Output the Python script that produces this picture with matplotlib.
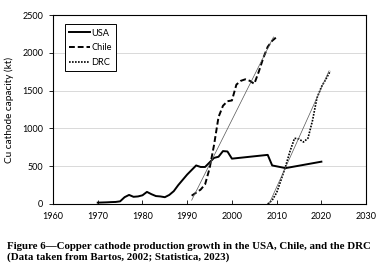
import matplotlib
matplotlib.use("Agg")
import matplotlib.pyplot as plt

# ---- data ----
usa_years = [1970, 1971, 1972, 1973, 1974, 1975, 1976, 1977, 1978, 1979, 1980,
             1981, 1982, 1983, 1984, 1985, 1986, 1987, 1988, 1989, 1990, 1991,
             1992, 1993, 1994, 1995, 1996, 1997, 1998, 1999, 2000, 2008, 2009,
             2012, 2020]
usa_vals = [18, 20, 22, 25, 27, 35, 90, 120, 95, 100, 115,
            160, 130, 105, 100, 90, 120, 170, 250, 320, 390, 450,
            510, 490, 490, 550, 610, 625, 700, 695, 600, 650, 510,
            475, 560]

chile_years = [1991, 1992, 1993, 1994, 1995, 1996, 1997, 1998, 1999, 2000,
               2001, 2002, 2003, 2004, 2005, 2006, 2007, 2008, 2009, 2010]
chile_vals = [110, 150, 190, 260, 470, 780, 1150, 1300, 1360, 1370,
              1580, 1630, 1650, 1630, 1590, 1750, 1930, 2080, 2160, 2210]

drc_years = [2008, 2009, 2010, 2011, 2012, 2013, 2014, 2015, 2016, 2017,
             2018, 2019, 2020, 2021, 2022]
drc_vals = [0, 50, 150, 320, 500, 700, 870, 860, 820, 870,
            1100, 1400, 1550, 1650, 1760]

chile_trend_years = [1991, 2009.3]
chile_trend_vals = [50, 2210]
drc_trend_years = [2008.3, 2021.7]
drc_trend_vals = [0, 1760]

labels = ["USA", "Chile", "DRC"]
xticks = list(range(1960, 2031, 10))
yticks = list(range(0, 2501, 500))
ylabel = "Cu cathode capacity (kt)"
caption = ("Figure 6\u2014Copper cathode production growth in the USA, Chile, and the DRC\n"
           "(Data taken from Bartos, 2002; Statistica, 2023)")

# ---- figure ----
fig = plt.figure(figsize=(3.87, 2.74), dpi=100)
ax = fig.add_axes([0.137, 0.2555, 0.809, 0.6895])

tick_font = "Lato"
ax.plot(usa_years, usa_vals, color="black", lw=1.4, ls="-", label=labels[0])
ax.plot(chile_years, chile_vals, color="black", lw=1.4, ls=(0, (3, 1.5)), label=labels[1])
ax.plot(drc_years, drc_vals, color="black", lw=1.2, ls=(0, (1, 0.8)), label=labels[2])
ax.plot(chile_trend_years, chile_trend_vals, color="#555555", lw=0.5)
ax.plot(drc_trend_years, drc_trend_vals, color="#555555", lw=0.5)

ax.set_xlim(1960, 2030)
ax.set_ylim(0, 2500)
ax.set_xticks(xticks)
ax.set_yticks(yticks)
ax.set_xticklabels([str(t) for t in xticks], fontsize=6.5, family=tick_font)
ax.set_yticklabels([str(t) for t in yticks], fontsize=6.5, family=tick_font)
ax.tick_params(axis="x", direction="in", length=3, width=0.6, pad=6)
ax.tick_params(axis="y", direction="out", length=3, width=0.6, pad=4)
ax.yaxis.grid(True, color="#d9d9d9", lw=0.7)
ax.set_axisbelow(True)
for s in ax.spines.values():
    s.set_linewidth(0.8)
    s.set_color("black")
ax.set_ylabel(ylabel, fontsize=7.2, family=tick_font, labelpad=6)

leg = ax.legend(loc="upper left", bbox_to_anchor=(0.022, 0.975),
                prop={"family": tick_font, "size": 6.7}, handlelength=2.3,
                handletextpad=0.1, borderpad=0.45, labelspacing=0.6,
                fancybox=False, edgecolor="black", framealpha=1)
leg.get_frame().set_linewidth(0.7)

fig.text(0.018, 0.118, caption, fontsize=7.85, family="Liberation Serif",
         fontweight="bold", va="top", ha="left", linespacing=1.2)

fig.savefig("out.png", dpi=100)
